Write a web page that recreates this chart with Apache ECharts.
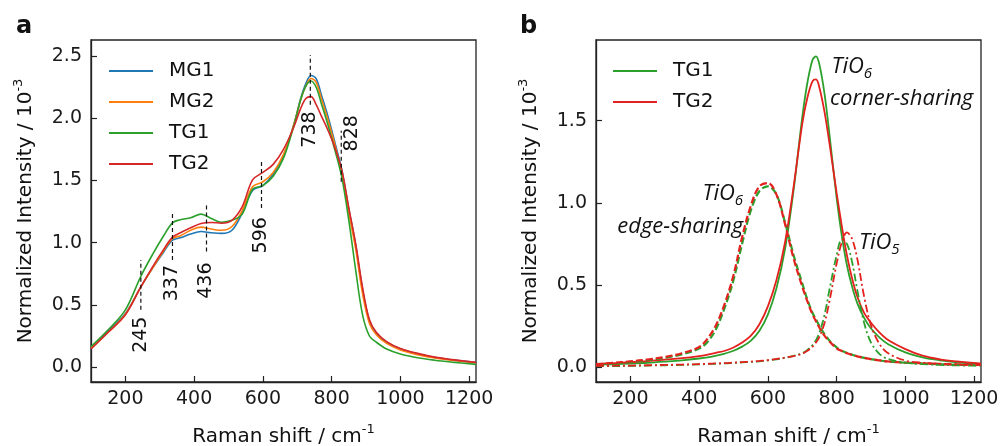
<!DOCTYPE html>
<html><head><meta charset="utf-8">
<script src="https://cdn.jsdelivr.net/npm/echarts@6/dist/echarts.min.js"></script>
<style>html,body{margin:0;padding:0;background:#fff}#c{width:1000px;height:446px}</style>
</head><body><div id="c"></div>
<script>
// ---------- Panel a data ----------
const ramanA = [100,150,200,245,280,310,337,360,390,420,450,480,510,540,570,600,630,660,690,710,725,740,755,770,790,810,830,850,870,890,910,930,960,1000,1050,1100,1150,1220];
const mg1 = [0.155,0.29,0.43,0.645,0.80,0.92,1.02,1.04,1.07,1.09,1.08,1.075,1.10,1.24,1.42,1.46,1.55,1.70,1.95,2.16,2.28,2.345,2.32,2.19,2.01,1.80,1.58,1.27,0.98,0.62,0.37,0.27,0.20,0.145,0.105,0.077,0.058,0.037];
const mg2 = [0.15,0.28,0.425,0.645,0.80,0.93,1.035,1.056,1.10,1.125,1.11,1.10,1.13,1.26,1.45,1.49,1.565,1.71,1.95,2.15,2.26,2.32,2.29,2.16,1.98,1.78,1.55,1.24,0.95,0.59,0.35,0.26,0.19,0.138,0.10,0.073,0.055,0.035];
const tg1 = [0.165,0.30,0.46,0.73,0.91,1.05,1.16,1.185,1.20,1.23,1.195,1.165,1.18,1.23,1.43,1.46,1.535,1.68,1.94,2.15,2.26,2.30,2.25,2.12,1.94,1.74,1.52,1.18,0.78,0.42,0.25,0.20,0.145,0.105,0.075,0.055,0.04,0.022];
const tg2 = [0.145,0.28,0.42,0.645,0.81,0.94,1.045,1.08,1.12,1.155,1.163,1.157,1.18,1.29,1.505,1.565,1.63,1.75,1.93,2.08,2.16,2.175,2.11,2.02,1.90,1.76,1.58,1.28,0.99,0.64,0.38,0.28,0.205,0.15,0.11,0.08,0.06,0.038];
// peak markers (panel a)
const peakPos = [245,337,436,596,738,828];
const peakLow = [0.46,0.86,0.93,1.28,2.11,1.49];
const peakHigh = [0.86,1.25,1.32,1.67,2.51,1.90];
const peakLabelX = [245,337,436,596,738,858];
const peakLabelY = [0.26,0.675,0.695,1.06,1.91,1.88];
const peakLabels = ['245','337','436','596','738','828'];

// ---------- Panel b data ----------
const ramanB = [100,150,200,250,300,350,400,425,450,475,500,525,550,575,600,625,650,675,700,715,730,740,750,765,780,800,815,830,845,860,880,900,925,950,1000,1050,1100,1150,1220];
const cornerTG1 = [0.015,0.018,0.022,0.027,0.034,0.042,0.053,0.06,0.07,0.083,0.10,0.125,0.16,0.22,0.32,0.48,0.72,1.08,1.52,1.73,1.87,1.89,1.84,1.66,1.40,1.03,0.80,0.62,0.49,0.39,0.30,0.235,0.18,0.14,0.09,0.06,0.042,0.03,0.02];
const cornerTG2 = [0.02,0.025,0.03,0.037,0.046,0.055,0.068,0.077,0.088,0.10,0.12,0.15,0.19,0.26,0.37,0.53,0.76,1.10,1.48,1.64,1.74,1.75,1.70,1.55,1.35,1.06,0.86,0.68,0.54,0.43,0.33,0.27,0.21,0.165,0.11,0.07,0.048,0.035,0.022];
const edgeTG1 = [0.015,0.022,0.032,0.043,0.057,0.078,0.113,0.155,0.235,0.365,0.53,0.75,0.95,1.07,1.10,1.05,0.88,0.68,0.51,0.41,0.33,0.29,0.25,0.20,0.16,0.12,0.10,0.087,0.076,0.067,0.057,0.049,0.041,0.035,0.027,0.022,0.018,0.015,0.012];
const edgeTG2 = [0.018,0.026,0.036,0.047,0.062,0.085,0.123,0.175,0.26,0.39,0.56,0.79,0.98,1.10,1.12,1.05,0.87,0.66,0.49,0.40,0.32,0.28,0.24,0.19,0.155,0.115,0.098,0.085,0.075,0.066,0.057,0.049,0.041,0.035,0.028,0.024,0.02,0.017,0.014];
const pentaTG1 = [0.006,0.007,0.008,0.01,0.012,0.014,0.017,0.019,0.021,0.023,0.026,0.029,0.032,0.036,0.041,0.048,0.057,0.069,0.085,0.105,0.135,0.165,0.21,0.32,0.48,0.68,0.775,0.75,0.64,0.47,0.27,0.15,0.08,0.05,0.028,0.019,0.014,0.011,0.009];
const pentaTG2 = [0.008,0.009,0.01,0.012,0.014,0.016,0.019,0.021,0.023,0.025,0.028,0.031,0.034,0.038,0.043,0.05,0.058,0.068,0.082,0.10,0.125,0.15,0.185,0.27,0.41,0.63,0.76,0.82,0.78,0.66,0.43,0.255,0.14,0.085,0.04,0.027,0.02,0.016,0.013];
// annotations (panel b)
const annBX = [785,781,528,528,865];
const annBY = [1.83,1.63,1.058,0.852,0.755];
const annBText = ['{i|TiO}{s|6}','{i|corner-sharing}','{i|TiO}{s|6}','{i|edge-sharing}','{i|TiO}{s|5}'];
const annBAlign = ['left','left','right','right','left'];

// ticks
const xTicks = [200,400,600,800,1000,1200];
const yTicksA = [0,0.5,1.0,1.5,2.0,2.5];
const yTicksB = [0,0.5,1.0,1.5];

const FONT = 'DejaVu Sans';
const INK = '#111';
const C = {blue:'#1f77b4', orange:'#ff7f0e', green:'#2ca02c', red:'#d62728', gB:'#2ca02c', rB:'#e3211e'};
const pairs = (xs, ys) => xs.map((x,i)=>[x, ys[i]]);

function xAxis(gi){
  return {type:'value', gridIndex:gi, min:100, max:1220,
    name:'Raman shift / cm{sup|-1}', nameLocation:'middle', nameGap:41,
    nameTextStyle:{fontSize:20, color:INK, fontFamily:FONT, rich:{sup:{fontSize:13, color:INK, fontFamily:FONT, padding:[0,0,14,0]}}},
    axisLine:{show:true, onZero:false, lineStyle:{color:'#222', width:1.3}},
    axisTick:{show:true, inside:true, length:6, customValues:xTicks, lineStyle:{color:'#222', width:1.2}},
    axisLabel:{customValues:xTicks, fontSize:19, color:'#1a1a1a', margin:8, fontFamily:FONT, formatter:v=>String(v)},
    splitLine:{show:false}};
}
function yAxis(gi, min, max, ticks){
  return {type:'value', gridIndex:gi, min, max,
    name:'Normalized Intensity / 10{sup|-3}', nameLocation:'middle', nameGap:52,
    nameTextStyle:{fontSize:20, color:INK, fontFamily:FONT, rich:{sup:{fontSize:13, color:INK, fontFamily:FONT, padding:[0,0,14,0]}}},
    axisLine:{show:true, onZero:false, lineStyle:{color:'#222', width:1.3}},
    axisTick:{show:true, inside:true, length:6, customValues:ticks, lineStyle:{color:'#222', width:1.2}},
    axisLabel:{customValues:ticks, fontSize:19, color:'#1a1a1a', margin:9, fontFamily:FONT, formatter:v=>v.toFixed(1)},
    splitLine:{show:false}};
}
function line(name, xs, ys, color, gi, width, type){
  return {type:'line', name, xAxisIndex:gi, yAxisIndex:gi, data:pairs(xs,ys), symbol:'none', smooth:0.35,
    lineStyle:{color, width, type:type||'solid'}, itemStyle:{color}, silent:true, z:2};
}

const series = [
  line('MG1', ramanA, mg1, C.blue, 0, 1.6),
  line('MG2', ramanA, mg2, C.orange, 0, 1.6),
  line('TG1', ramanA, tg1, C.green, 0, 1.6),
  line('TG2', ramanA, tg2, C.red, 0, 1.6),
];
peakPos.forEach((p,i)=>{
  series.push({type:'line', name:'mark'+i, xAxisIndex:0, yAxisIndex:0, data:[[p,peakLow[i]],[p,peakHigh[i]]],
    symbol:'none', lineStyle:{color:'#111', width:1.2, type:[4,3]}, silent:true, z:5});
});
series.push({type:'scatter', name:'peakLabels', xAxisIndex:0, yAxisIndex:0,
  data:peakLabelX.map((x,i)=>[x, peakLabelY[i], peakLabels[i]]), symbolSize:1, itemStyle:{color:'rgba(0,0,0,0)'},
  label:{show:true, position:'inside', rotate:90, formatter:p=>p.value[2], fontSize:19, color:INK, opacity:1,
    textBorderWidth:0, fontFamily:FONT}, silent:true, z:6});

series.push(
  line('TG1 ', ramanB, cornerTG1, C.gB, 1, 1.8),
  line('TG2 ', ramanB, cornerTG2, C.rB, 1, 1.8),
  line('TG1 edge', ramanB, edgeTG1, C.gB, 1, 2.2, [7,3]),
  line('TG2 edge', ramanB, edgeTG2, C.rB, 1, 2.2, [7,3]),
  line('TG1 penta', ramanB, pentaTG1, C.gB, 1, 1.8, [8,3,2,3]),
  line('TG2 penta', ramanB, pentaTG2, C.rB, 1, 1.8, [8,3,2,3])
);
series.push({type:'scatter', name:'annB', xAxisIndex:1, yAxisIndex:1,
  data:annBX.map((x,i)=>({value:[x, annBY[i]], label:{formatter:annBText[i], align:annBAlign[i]}})),
  symbolSize:1, itemStyle:{color:'rgba(0,0,0,0)'},
  label:{show:true, position:'inside', verticalAlign:'middle', color:INK, opacity:1, textBorderWidth:0,
    rich:{i:{fontSize:22, fontStyle:'italic', fontFamily:'Open Sans', color:INK, textBorderWidth:0},
          s:{fontSize:15, fontStyle:'italic', fontFamily:'Open Sans', color:INK, textBorderWidth:0, padding:[14,0,0,0]}}},
  silent:true, z:6});

const legendCommon = {orient:'vertical', top:56, itemWidth:44, itemHeight:2, itemGap:11, icon:'rect',
  textStyle:{fontSize:20, color:INK, fontFamily:FONT, padding:[0,0,0,11]}, selectedMode:false};
const option = {
  animation:false,
  backgroundColor:'#fff',
  title:[
    {text:'a', left:11, top:10, textStyle:{fontSize:24, fontWeight:'bold', color:'#111', fontFamily:FONT}},
    {text:'b', left:515, top:10, textStyle:{fontSize:24, fontWeight:'bold', color:'#111', fontFamily:FONT}}
  ],
  grid:[
    {left:91, top:40, width:385, height:342, outerBoundsMode:'none', show:true, borderColor:'#222', borderWidth:1.3, backgroundColor:'rgba(0,0,0,0)'},
    {left:596, top:40, width:385, height:342, outerBoundsMode:'none', show:true, borderColor:'#222', borderWidth:1.3, backgroundColor:'rgba(0,0,0,0)'}
  ],
  xAxis:[xAxis(0), xAxis(1)],
  yAxis:[yAxis(0,-0.12,2.63,yTicksA), yAxis(1,-0.09,1.99,yTicksB)],
  legend:[
    Object.assign({left:104, data:['MG1','MG2','TG1','TG2']}, legendCommon),
    Object.assign({left:608, data:['TG1 ','TG2 ']}, legendCommon)
  ],
  series
};
const chart = echarts.init(document.getElementById('c'));
chart.setOption(option);
</script></body></html>
